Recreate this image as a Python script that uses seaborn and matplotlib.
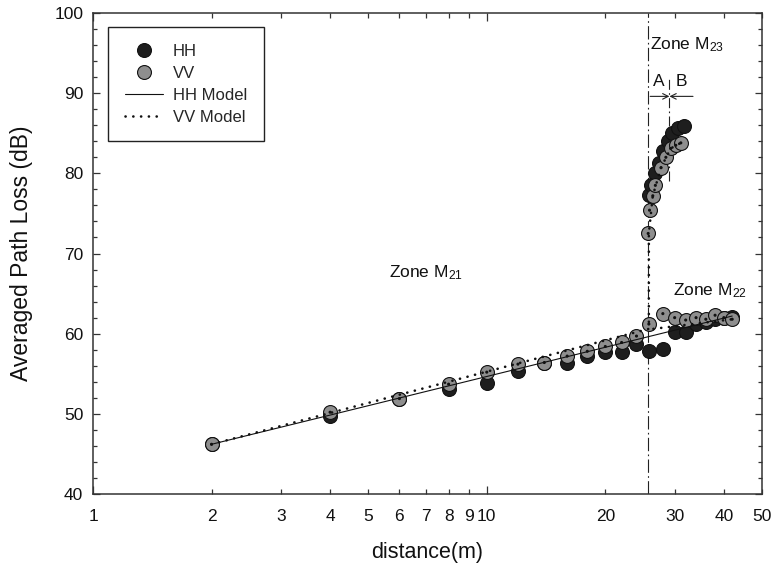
import matplotlib
matplotlib.use("Agg")
import matplotlib.pyplot as plt
from matplotlib.lines import Line2D
from matplotlib.ticker import FixedLocator, FixedFormatter
import seaborn as sns
import pandas as pd

# ---------------- data ----------------
# HH measurements
hh_x_m21 = [2, 4, 6, 8, 10, 12, 14, 16, 18, 20, 22, 24, 25.8]
hh_y_m21 = [46.2, 49.7, 51.8, 53.1, 53.9, 55.3, 56.4, 56.3, 57.2, 57.7, 57.7, 58.7, 57.8]
hh_x_m23 = [25.8, 26.2, 26.8, 27.4, 28.0, 28.8, 29.6, 30.6, 31.6]
hh_y_m23 = [77.3, 78.6, 80.0, 81.3, 82.8, 84.0, 85.0, 85.6, 85.9]
hh_x_m22 = [28, 30, 32, 34, 36, 38, 40, 42]
hh_y_m22 = [58.1, 60.2, 60.2, 61.2, 61.5, 61.8, 62.0, 62.1]

# VV measurements
vv_x_m21 = [2, 4, 6, 8, 10, 12, 14, 16, 18, 20, 22, 24, 25.8]
vv_y_m21 = [46.2, 50.2, 51.9, 53.7, 55.2, 56.2, 56.4, 57.2, 57.8, 58.4, 58.9, 59.7, 61.2]
vv_x_m23 = [25.7, 25.9, 26.4, 26.8, 27.7, 28.5, 29.3, 30.2, 31.1]
vv_y_m23 = [72.5, 75.4, 77.2, 78.5, 80.7, 82.0, 83.1, 83.5, 83.8]
vv_x_m22 = [28, 30, 32, 34, 36, 38, 40, 42]
vv_y_m22 = [62.5, 62.0, 61.7, 62.0, 61.8, 62.3, 62.0, 61.8]

# Models
hh_model_x_lin = [2, 42]
hh_model_y_lin = [46.2, 62.2]
hh_model_x_m23 = [25.8, 26.8, 28.0, 29.6, 31.6]
hh_model_y_m23 = [77.3, 80.0, 82.8, 85.0, 85.9]
vv_model_x_m21 = [2, 25.8, 25.8, 26.4, 27.7, 29.3, 31.1]
vv_model_y_m21 = [46.2, 60.6, 72.5, 77.2, 80.7, 83.1, 83.8]
vv_model_x_m22 = [26.5, 42]
vv_model_y_m22 = [60.6, 61.8]

# Zone boundaries / annotations
zone_boundary = 25.7
ab_boundary = 29.1

x_ticks = [1, 2, 3, 4, 5, 6, 7, 8, 9, 10, 20, 30, 40, 50]
y_ticks = [40, 50, 60, 70, 80, 90, 100]

# ---------------- style ----------------
sns.set_theme(style="ticks")
plt.rcParams["font.family"] = ["Liberation Sans", "DejaVu Sans"]
plt.rcParams["mathtext.default"] = "regular"

fig = plt.figure(figsize=(7.72, 5.72), dpi=100)
ax = fig.add_axes([93 / 772, 1 - 494 / 572, 669 / 772, 481 / 572])

hh_df = pd.DataFrame({"x": hh_x_m21 + hh_x_m23 + hh_x_m22,
                      "y": hh_y_m21 + hh_y_m23 + hh_y_m22})
vv_df = pd.DataFrame({"x": vv_x_m21 + vv_x_m23 + vv_x_m22,
                      "y": vv_y_m21 + vv_y_m23 + vv_y_m22})

hh_face = "#1e1e1e"
vv_face = "#8e8e8e"
msize = 100

sns.scatterplot(data=hh_df, x="x", y="y", ax=ax, s=msize, color=hh_face,
                edgecolor="#111111", linewidth=0.8, zorder=3, legend=False)
sns.scatterplot(data=vv_df, x="x", y="y", ax=ax, s=msize, color=vv_face,
                edgecolor="#111111", linewidth=0.8, zorder=4, legend=False)
sns.scatterplot(data=vv_df, x="x", y="y", ax=ax, s=5, color="#111111",
                edgecolor="none", zorder=5, legend=False)

dot_style = (0, (0.05, 2.9))
line_kw = dict(ax=ax, sort=False, estimator=None, color="#111111", legend=False)
sns.lineplot(x=hh_model_x_lin, y=hh_model_y_lin, linewidth=0.8, zorder=6, **line_kw)
sns.lineplot(x=hh_model_x_m23, y=hh_model_y_m23, linewidth=0.8, zorder=2, **line_kw)
for xs, ys in [(vv_model_x_m21, vv_model_y_m21), (vv_model_x_m22, vv_model_y_m22)]:
    sns.lineplot(x=xs, y=ys, linewidth=1.9, linestyle=dot_style,
                 dash_capstyle="round", zorder=6, **line_kw)

# zone boundary lines
ax.axvline(zone_boundary, color="#222222", linewidth=0.8,
           linestyle=(0, (12, 3, 1.5, 3)), zorder=1)
ax.plot([ab_boundary, ab_boundary], [79.0, 91.8], color="#222222",
        linewidth=0.8, linestyle=(0, (9, 3, 1.5, 3)), zorder=1)
arrow_kw = dict(arrowstyle="->", color="#222222", lw=0.8,
                shrinkA=0, shrinkB=0, mutation_scale=10)
ax.annotate("", xy=(ab_boundary, 89.6), xytext=(26.0, 89.6), arrowprops=arrow_kw)
ax.annotate("", xy=(ab_boundary, 89.6), xytext=(33.4, 89.6), arrowprops=arrow_kw)

txt_kw = dict(fontsize=12.5, color="#111111")
ax.text(5.65, 67.6, "Zone M$_{21}$", ha="left", va="center", **txt_kw)
ax.text(29.7, 65.4, "Zone M$_{22}$", ha="left", va="center", **txt_kw)
ax.text(26.05, 96.1, "Zone M$_{23}$", ha="left", va="center", **txt_kw)
ax.text(27.4, 91.4, "A", ha="center", va="center", **txt_kw)
ax.text(31.2, 91.4, "B", ha="center", va="center", **txt_kw)

# axes
ax.set_xscale("log")
ax.set_xlim(1, 50)
ax.set_ylim(40, 100)
ax.xaxis.set_major_locator(FixedLocator([1, 10]))
ax.xaxis.set_major_formatter(FixedFormatter(["1", "10"]))
minor_x = [t for t in x_ticks if t not in (1, 10)]
ax.xaxis.set_minor_locator(FixedLocator(minor_x))
ax.xaxis.set_minor_formatter(FixedFormatter([str(t) for t in minor_x]))
ax.set_yticks(y_ticks)
ax.yaxis.set_minor_locator(FixedLocator(list(range(40, 101, 2))))

ax.tick_params(which="both", direction="in", top=True, right=True,
               color="#333333", width=0.9, labelsize=12.5, labelcolor="#111111")
ax.tick_params(axis="x", which="major", length=6, pad=11)
ax.tick_params(axis="x", which="minor", length=3.5, pad=11)
ax.tick_params(axis="y", which="major", length=5, pad=7)
ax.tick_params(axis="y", which="minor", length=3)
for sp in ax.spines.values():
    sp.set_color("#333333")
    sp.set_linewidth(1.1)

ax.set_xlabel("distance(m)", fontsize=15.5, color="#111111")
ax.set_ylabel("Averaged Path Loss (dB)", fontsize=16.5, color="#111111")
ax.xaxis.set_label_coords(0.499, -0.100)
ax.yaxis.set_label_coords(-0.090, 0.5)

handles = [
    Line2D([], [], marker="o", linestyle="none", markersize=10,
           markerfacecolor=hh_face, markeredgecolor="#111111", markeredgewidth=0.8),
    Line2D([], [], marker="o", linestyle="none", markersize=10,
           markerfacecolor=vv_face, markeredgecolor="#111111", markeredgewidth=0.8),
    Line2D([], [], color="#111111", linewidth=0.8),
    Line2D([], [], color="#111111", linewidth=1.9, linestyle=dot_style,
           dash_capstyle="round"),
]
leg = ax.legend(handles, ["HH", "VV", "HH Model", "VV Model"],
                loc="upper left", bbox_to_anchor=(108 / 772, 1 - 27 / 572),
                bbox_transform=fig.transFigure, fontsize=12, frameon=True,
                fancybox=False, edgecolor="#222222", framealpha=1,
                borderpad=1.0, handlelength=2.3, handletextpad=0.6,
                labelspacing=0.42, borderaxespad=0)
leg.get_frame().set_linewidth(1.0)

fig.savefig("out.png", dpi=100)
